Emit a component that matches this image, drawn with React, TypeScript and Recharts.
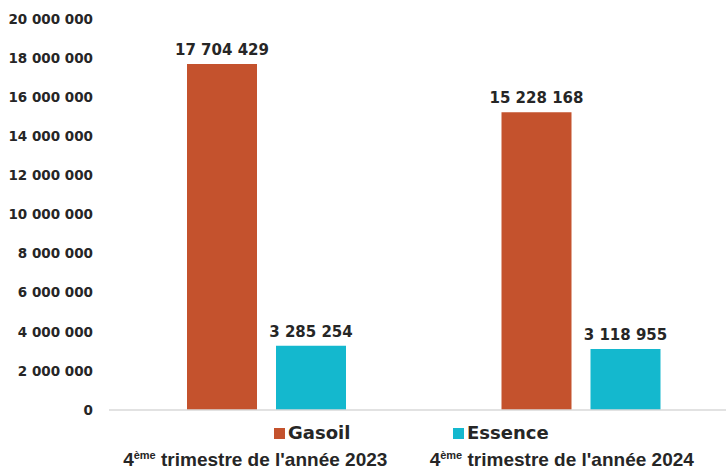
import { BarChart, Bar, XAxis, YAxis, Legend, LabelList } from "recharts";

const categories = ["2023", "2024"];
const gasoil = [17704429, 15228168];
const essence = [3285254, 3118955];
const yTicks = [0, 2000000, 4000000, 6000000, 8000000, 10000000, 12000000, 14000000, 16000000, 18000000, 20000000];

const data = categories.map((year, i) => ({
  year,
  gasoil: gasoil[i],
  essence: essence[i],
}));

const GASOIL = "#C4522D";
const ESSENCE = "#14B8CE";
const TEXT = "#262626";
const WIDE = "'DejaVu Sans', Verdana, sans-serif";
const NARROW = "'Liberation Sans', Arial, sans-serif";

const fmt = (v: number) => String(v).replace(/\B(?=(\d{3})+(?!\d))/g, " ");

// labels sit a little left of the bar groups in the original
const CategoryTick = ({ x, y, payload, index }: any) => (
  <text x={x + (index === 0 ? -11 : -19)} y={y + 48} textAnchor="middle" fill={TEXT} fontSize={19} fontWeight="bold" fontFamily={NARROW}>
    <tspan>4</tspan>
    <tspan fontSize={11} dy={-7}>ème</tspan>
    <tspan dy={7}> trimestre de l'année {payload.value}</tspan>
  </text>
);

const ValueLabel = ({ x, y, width, value }: any) => (
  <text x={x + width / 2} y={y - 9} textAnchor="middle" fill={TEXT} fontSize={15} fontWeight="bold" fontFamily={WIDE}>
    {fmt(value)}
  </text>
);

const LegendContent = () => (
  <div style={{ display: "flex", fontFamily: WIDE, fontSize: 18, fontWeight: "bold", color: TEXT, lineHeight: "22px" }}>
    <div style={{ display: "flex", alignItems: "center", width: 179 }}>
      <span style={{ width: 11, height: 11, background: GASOIL, display: "inline-block", marginRight: 3 }} />
      Gasoil
    </div>
    <div style={{ display: "flex", alignItems: "center" }}>
      <span style={{ width: 11, height: 11, background: ESSENCE, display: "inline-block", marginRight: 3 }} />
      Essence
    </div>
  </div>
);

export default function App() {
  return (
    <div style={{ position: "fixed", left: 0, top: 0, width: 726, height: 473, overflow: "hidden", background: "#fff" }}>
      <BarChart width={740} height={473} data={data} margin={{ top: 19, right: 2, bottom: 0, left: 0 }} barSize={70} barGap={19}>
        <XAxis dataKey="year" height={63} tick={<CategoryTick />} tickLine={false} axisLine={{ stroke: "#D9D9D9", strokeWidth: 1.5 }} />
        <YAxis
          width={109}
          domain={[0, 20000000]}
          ticks={yTicks}
          interval={0}
          tickFormatter={fmt}
          axisLine={false}
          tickLine={false}
          tickMargin={10}
          tick={{ fill: TEXT, fontSize: 13.5, fontWeight: "bold", fontFamily: WIDE }}
        />
        <Legend
          content={<LegendContent />}
          wrapperStyle={{ position: "absolute", top: 422, left: 274, width: 400, height: 0, overflow: "visible", bottom: "auto" }}
        />
        <Bar dataKey="gasoil" name="Gasoil" fill={GASOIL} isAnimationActive={false}>
          <LabelList dataKey="gasoil" content={<ValueLabel />} />
        </Bar>
        <Bar dataKey="essence" name="Essence" fill={ESSENCE} isAnimationActive={false}>
          <LabelList dataKey="essence" content={<ValueLabel />} />
        </Bar>
      </BarChart>
    </div>
  );
}
